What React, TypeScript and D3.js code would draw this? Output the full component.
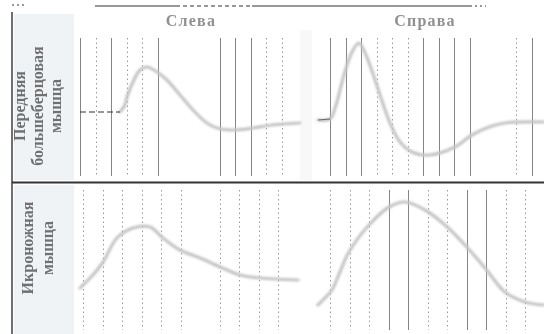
import React, { useEffect, useRef } from "react";
import * as d3 from "d3";

// column and row titles
const columnTitles = ["Слева", "Справа"];
const rowLabels = [
  ["Передняя", "большеберцовая", "мышца"],
  ["Икроножная", "мышца"],
];

// curves: [time ms, amplitude units]
const tibialisLeft: [number, number][] = [
  [25.8, 0.8], [29.0, 1.5], [30.3, 2.3], [34.2, 3.8], [38.7, 5.0], [43.2, 5.3],
  [49.7, 4.8], [56.1, 4.0], [64.5, 2.5], [72.9, 1.0], [81.9, -0.3], [88.4, -0.8],
  [98.7, -1.0], [111.6, -0.8], [123.9, -0.5], [141.9, -0.3],
];
const tibialisLeftBaseline: [number, number][] = [[0, 0.8], [25.8, 0.8]];
const tibialisRight: [number, number][] = [
  [-7.7, 0.0], [0, 0.1], [3.9, 1.5], [9.0, 4.5], [14.2, 6.8], [18.7, 7.7],
  [23.2, 6.5], [29.7, 3.7], [38.7, -0.3], [45.2, -2.2], [52.9, -3.2], [63.9, -3.5],
  [80.6, -2.7], [91.6, -1.5], [102.6, -0.7], [112.9, -0.3], [138.1, -0.2],
];
const gastroLeft: [number, number][] = [
  [-1.5, 1.7], [0, 2.0], [5.1, 3.0], [10.3, 4.3], [17.4, 6.7], [25.6, 7.7],
  [34.4, 7.8], [41.0, 6.7], [49.7, 5.5], [60.0, 4.7], [70.3, 3.8], [80.5, 3.0],
  [90.8, 2.7], [110.3, 2.5],
];
const gastroRight: [number, number][] = [
  [-6.2, 0.0], [-2.6, 0.7], [1.0, 1.5], [5.1, 3.3], [9.7, 5.3], [20.0, 8.0],
  [30.3, 9.8], [38.5, 10.3], [48.7, 9.5], [59.0, 8.0], [69.2, 6.0], [79.5, 3.7],
  [89.7, 1.3], [100.0, 0.3], [109.7, 0.0],
];

// time markers (ms)
const tibialisLeftMarks = [0, 10, 20, 30, 40, 50, 90, 100, 110, 120, 130];
const tibialisLeftDotted = [10, 30, 40, 120, 130];
const tibialisRightMarks = [0, 10, 20, 30, 40, 50, 60, 70, 80, 90, 120, 130];
const tibialisRightDotted = [30, 40, 50, 120];
const gastroLeftMarks = [0, 10, 20, 30, 40, 50, 70, 80, 90, 100];
const gastroLeftDotted = [0, 10, 20, 30, 40, 50, 70, 80, 90, 100];
const gastroRightMarks = [0, 10, 20, 30, 40, 50, 60, 70, 80, 90, 100];
const gastroRightDotted = [0, 10, 20, 50, 60, 90, 100];

const W = 544;
const H = 334;

const App = () => {
  const ref = useRef<SVGSVGElement | null>(null);

  useEffect(() => {
    const svg = d3.select(ref.current);
    svg.selectAll("*").remove();

    const defs = svg.append("defs");
    defs.append("filter").attr("id", "soft")
      .append("feGaussianBlur").attr("stdDeviation", 1.1);
    defs.append("filter").attr("id", "softText")
      .append("feGaussianBlur").attr("stdDeviation", 0.5);

    svg.append("rect").attr("width", W).attr("height", H).attr("fill", "#fff");

    // label column tint
    svg.append("rect").attr("x", 14).attr("y", 14).attr("width", 60).attr("height", 166).attr("fill", "#f0f3f6");
    svg.append("rect").attr("x", 14).attr("y", 185).attr("width", 60).attr("height", 149).attr("fill", "#f0f3f6");
    svg.append("rect").attr("x", 300).attr("y", 30).attr("width", 12).attr("height", 150).attr("fill", "#f8f8f8");

    // frame
    const frame = svg.append("g").attr("stroke", "#333").attr("fill", "none");
    frame.append("line").attr("x1", 12).attr("x2", 12).attr("y1", 12).attr("y2", H).attr("stroke-width", 1.4);
    frame.append("line").attr("x1", 12).attr("x2", W).attr("y1", 182.5).attr("y2", 182.5).attr("stroke-width", 2);
    frame.append("line").attr("x1", 95).attr("x2", 176).attr("y1", 6).attr("y2", 6).attr("stroke-width", 1.2);
    frame.append("line").attr("x1", 176).attr("x2", 252).attr("y1", 6).attr("y2", 6)
      .attr("stroke-width", 1.2).attr("stroke-dasharray", "4,3");
    frame.append("line").attr("x1", 252).attr("x2", 470).attr("y1", 6).attr("y2", 6).attr("stroke-width", 1.2);
    frame.append("line").attr("x1", 470).attr("x2", 486).attr("y1", 6).attr("y2", 6)
      .attr("stroke-width", 1.2).attr("stroke-dasharray", "2,3");
    frame.append("line").attr("x1", 12).attr("x2", 26).attr("y1", 5).attr("y2", 5)
      .attr("stroke-width", 1).attr("stroke-dasharray", "2,3");

    // headers
    const headerX = [191, 425];
    columnTitles.forEach((t, i) => {
      svg.append("text")
        .attr("x", headerX[i]).attr("y", 26)
        .attr("text-anchor", "middle")
        .attr("font-family", "Liberation Serif, DejaVu Serif, serif")
        .attr("font-size", 16).attr("font-weight", "bold")
        .attr("letter-spacing", 1.2)
        .attr("fill", "#909090").attr("filter", "url(#softText)")
        .text(t);
    });

    // row labels (rotated)
    const labelRows = [
      { cy: 106, xs: [21, 39, 57] },
      { cy: 248, xs: [29, 49] },
    ];
    rowLabels.forEach((lines, r) => {
      lines.forEach((ln, j) => {
        svg.append("text")
          .attr("transform", `translate(${labelRows[r].xs[j]},${labelRows[r].cy}) rotate(-90)`)
          .attr("text-anchor", "middle")
          .attr("dominant-baseline", "middle")
          .attr("font-family", "Liberation Serif, DejaVu Serif, serif")
          .attr("font-size", 16).attr("font-weight", "bold")
          .attr("fill", "#707070").attr("filter", "url(#softText)")
          .text(ln);
      });
    });

    const yTop = d3.scaleLinear().domain([-6, 8]).range([180, 40]);
    const yBot = d3.scaleLinear().domain([-2.5, 11.5]).range([330, 190]);

    const panels = [
      { x: d3.scaleLinear().domain([0, 130]).range([80, 281.5]), y: yTop, band: [38, 176],
        curve: tibialisLeft, marks: tibialisLeftMarks, dotted: tibialisLeftDotted },
      { x: d3.scaleLinear().domain([0, 130]).range([330, 531.5]), y: yTop, band: [38, 176],
        curve: tibialisRight, marks: tibialisRightMarks, dotted: tibialisRightDotted },
      { x: d3.scaleLinear().domain([0, 100]).range([83, 278]), y: yBot, band: [190, 330],
        curve: gastroLeft, marks: gastroLeftMarks, dotted: gastroLeftDotted },
      { x: d3.scaleLinear().domain([0, 100]).range([330, 525]), y: yBot, band: [190, 330],
        curve: gastroRight, marks: gastroRightMarks, dotted: gastroRightDotted },
    ];

    panels.forEach((p) => {
      const g = svg.append("g");
      g.selectAll("line")
        .data(p.marks)
        .join("line")
        .attr("x1", (d) => Math.round(p.x(d)) + 0.5)
        .attr("x2", (d) => Math.round(p.x(d)) + 0.5)
        .attr("y1", p.band[0])
        .attr("y2", p.band[1])
        .attr("stroke", (d) => (p.dotted.includes(d) ? "#9a9a9a" : "#858585"))
        .attr("stroke-width", 1)
        .attr("stroke-dasharray", (d) => (p.dotted.includes(d) ? "1.5,3" : null));

      const line = d3.line<[number, number]>()
        .x((d) => p.x(d[0]))
        .y((d) => p.y(d[1]))
        .curve(d3.curveCatmullRom);

      svg.append("path")
        .datum(p.curve)
        .attr("d", line)
        .attr("fill", "none")
        .attr("stroke", "#c4c4c4")
        .attr("stroke-width", 3.2)
        .attr("stroke-linecap", "round")
        .attr("filter", "url(#soft)");
    });

    // baseline marker, left tibialis
    const p0 = panels[0];
    svg.append("path")
      .datum(tibialisLeftBaseline)
      .attr("d", d3.line<[number, number]>().x((d) => p0.x(d[0])).y((d) => p0.y(d[1])))
      .attr("fill", "none")
      .attr("stroke", "#333")
      .attr("stroke-width", 1.2)
      .attr("stroke-dasharray", "6,3");
    // right baseline stub
    const p1 = panels[1];
    svg.append("path")
      .datum(tibialisRight.slice(0, 2))
      .attr("d", d3.line<[number, number]>().x((d) => p1.x(d[0])).y((d) => p1.y(d[1])))
      .attr("fill", "none")
      .attr("stroke", "#666")
      .attr("stroke-width", 1.2);
  }, []);

  return (
    <svg
      ref={ref}
      width={W}
      height={H}
      style={{ position: "absolute", left: 0, top: 0, display: "block" }}
    />
  );
};

export default App;
